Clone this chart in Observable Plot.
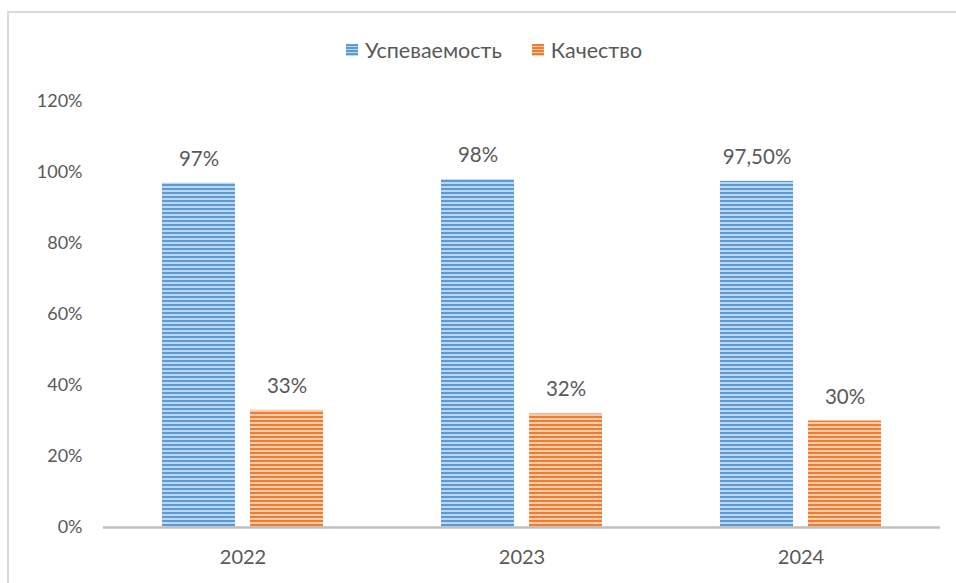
<!DOCTYPE html>
<html><head><meta charset="utf-8">
<script src="https://cdn.jsdelivr.net/npm/d3@7"></script>
<script src="https://cdn.jsdelivr.net/npm/@observablehq/plot@0.6"></script>
<style>
html,body{margin:0;padding:0;background:#fff;width:956px;height:583px;overflow:hidden;font-family:Lato,"Open Sans",sans-serif;}
#frame{position:absolute;left:7px;top:11px;width:1000px;height:600px;border-top:2px solid #d9d9d9;border-left:2px solid #d9d9d9;}
#legend{position:absolute;top:35px;left:346px;font-size:21.5px;color:#595959;white-space:nowrap;}
#legend span.item{display:inline-flex;align-items:center;margin-right:30px;}
#legend svg{margin-right:7px;}
#chart{position:absolute;left:0;top:80px;}
</style></head>
<body>
<div id="frame"></div>
<div id="legend"></div>
<div id="chart"></div>
<script>
const years = ["2022", "2023", "2024"];
const seriesNames = ["Успеваемость", "Качество"];
const uspevaemost = [97, 98, 97.5];
const kachestvo = [33, 32, 30];
const uspevaemostLabels = ["97%", "98%", "97,50%"];
const kachestvoLabels = ["33%", "32%", "30%"];
const yTicks = [0, 20, 40, 60, 80, 100, 120];
const colors = ["#5b9bd5", "#ed7d31"];
const lightColors = ["#bcd6f0", "#f9cbab"];

const data = [];
years.forEach((y, i) => {
  data.push({year: y, series: seriesNames[0], value: uspevaemost[i], label: uspevaemostLabels[i]});
  data.push({year: y, series: seriesNames[1], value: kachestvo[i], label: kachestvoLabels[i]});
});

const chart = Plot.plot({
  width: 956,
  height: 503,
  marginLeft: 102,
  marginRight: 16,
  marginTop: 21,
  marginBottom: 56,
  style: {fontFamily: "Lato, 'Open Sans', sans-serif", fontSize: "18px", color: "#595959", background: "transparent"},
  fx: {domain: years, padding: 0, label: null, axis: null},
  x: {domain: seriesNames, paddingInner: 0.17, paddingOuter: 0.67, axis: null},
  y: {domain: [0, 120], ticks: yTicks, tickFormat: d => d + "%", label: null, tickSize: 0, tickPadding: 21},
  color: {domain: seriesNames, range: ["url(#stripe0)", "url(#stripe1)"]},
  marks: [
    Plot.barY(data, {fx: "year", x: "series", y: "value", fill: "series"}),
    Plot.text(data, {fx: "year", x: "series", y: "value", text: "label", dy: -24, fill: "#595959", fontSize: 20.5}),
    Plot.ruleY([0], {stroke: "#bfbfbf", strokeWidth: 2.5}),
    Plot.axisFx({domain: years, anchor: "bottom", tickSize: 0, tickPadding: 22, fontSize: 20, label: null})
  ]
});

function addPatterns(svg, prefix) {
  const defs = d3.select(svg).insert("defs", ":first-child");
  colors.forEach((c, i) => {
    const p = defs.append("pattern").attr("id", prefix + i).attr("patternUnits", "userSpaceOnUse")
      .attr("width", 8).attr("height", 4);
    p.append("rect").attr("width", 8).attr("height", 4).attr("fill", lightColors[i]);
    p.append("rect").attr("width", 8).attr("height", 2).attr("fill", c);
  });
}
addPatterns(chart, "stripe");
document.getElementById("chart").appendChild(chart);

// legend
const legend = d3.select("#legend");
seriesNames.forEach((s, i) => {
  const item = legend.append("span").attr("class", "item");
  const sw = item.append("svg").attr("width", 12).attr("height", 12);
  const defs = sw.append("defs");
  const p = defs.append("pattern").attr("id", "lg" + i).attr("patternUnits", "userSpaceOnUse").attr("width", 8).attr("height", 3);
  p.append("rect").attr("width", 8).attr("height", 3).attr("fill", lightColors[i]);
  p.append("rect").attr("width", 8).attr("height", 2).attr("fill", colors[i]);
  sw.append("rect").attr("width", 12).attr("height", 12).attr("fill", `url(#lg${i})`);
  item.append("span").text(s);
});
</script>
</body></html>
